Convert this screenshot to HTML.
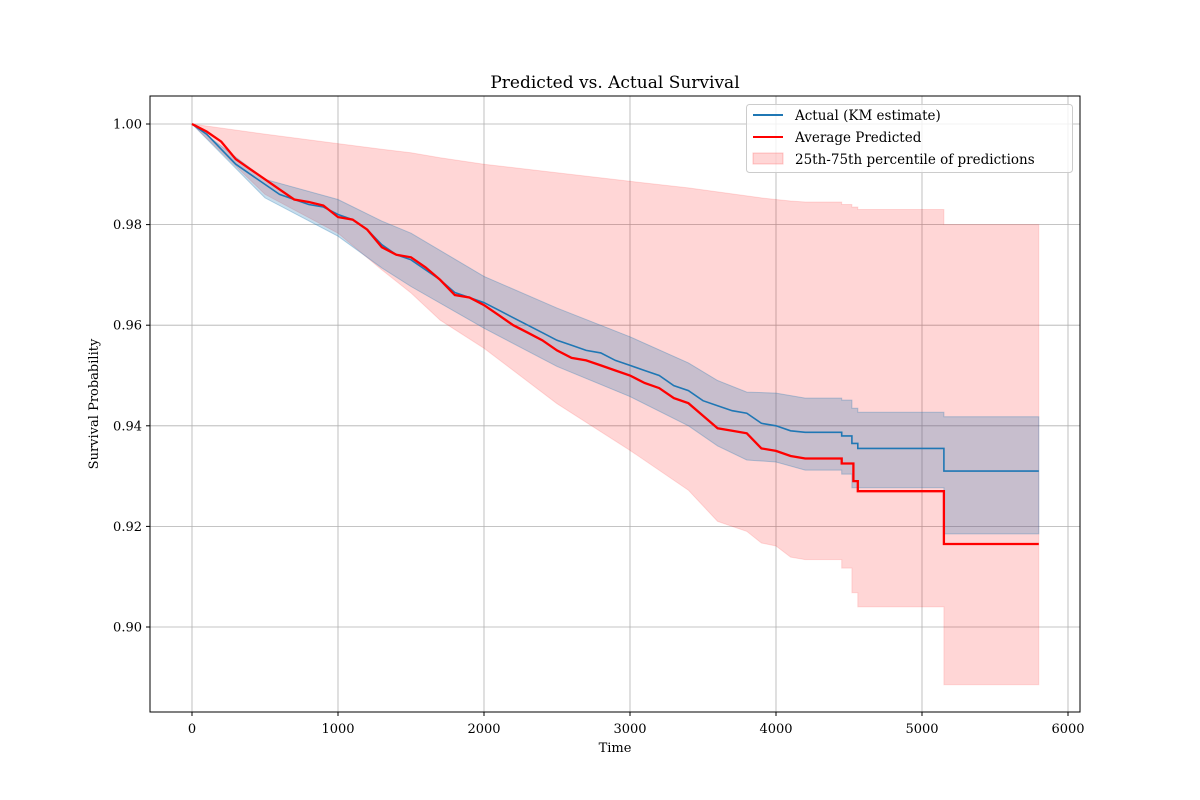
<!DOCTYPE html>
<html><head><meta charset="utf-8"><style>
body{margin:0;background:#fff}
svg{display:block;font-family:"DejaVu Serif","Liberation Serif",serif}
</style></head><body>
<svg id="chart" width="1200" height="800" viewBox="0 0 1200 800">
<rect width="1200" height="800" fill="#fff"/>
<g id="grid"></g>
<g id="bands"></g>
<g id="lines"></g>
<rect x="150" y="96" width="930" height="616" fill="none" stroke="#000" stroke-width="1"/>
<g id="ticks"></g>
<text x="615" y="88" text-anchor="middle" font-size="17">Predicted vs. Actual Survival</text>
<text x="615" y="752" text-anchor="middle" font-size="13">Time</text>
<text x="98" y="404" text-anchor="middle" font-size="13" transform="rotate(-90 98 404)">Survival Probability</text>
<g>
<rect x="746.5" y="104.5" width="326" height="68" rx="3" fill="#fff" fill-opacity="0.8" stroke="#ccc"/>
<line x1="753" y1="115" x2="783" y2="115" stroke="#1f77b4" stroke-width="2"/>
<text x="795" y="120" font-size="13.5">Actual (KM estimate)</text>
<line x1="753" y1="137" x2="783" y2="137" stroke="#ff0000" stroke-width="2"/>
<text x="795" y="142" font-size="13.5">Average Predicted</text>
<rect x="753" y="153" width="30" height="11" fill="#ff0000" fill-opacity="0.16" stroke="#ff0000" stroke-opacity="0.2"/>
<text x="795" y="164" font-size="13.5">25th-75th percentile of predictions</text>
</g>
</svg>
<script>
const xTicks=[0,1000,2000,3000,4000,5000,6000];
const yTicks=[0.90,0.92,0.94,0.96,0.98,1.00];
const kmT=[0,100,200,300,400,500,600,700,800,900,1000,1100,1200,1300,1400,1500,1600,1700,1800,1900,2000,2100,2200,2300,2400,2500,2600,2700,2800,2900,3000,3100,3200,3300,3400,3500,3600,3700,3800,3900,4000,4100,4200,4450,4520,4560,5150,5800];
const kmS=[1.0,0.998,0.995,0.992,0.990,0.988,0.986,0.985,0.984,0.9835,0.982,0.981,0.979,0.976,0.974,0.973,0.971,0.969,0.9665,0.9655,0.9645,0.963,0.9615,0.960,0.9585,0.957,0.956,0.955,0.9545,0.953,0.952,0.951,0.950,0.948,0.947,0.945,0.944,0.943,0.9425,0.9405,0.940,0.939,0.9387,0.938,0.9365,0.9355,0.931,0.931];
const predT=[0,100,200,300,400,500,600,700,800,900,1000,1100,1200,1300,1400,1500,1600,1700,1800,1900,2000,2100,2200,2300,2400,2500,2600,2700,2800,2900,3000,3100,3200,3300,3400,3500,3600,3700,3800,3900,4000,4100,4200,4450,4530,4560,5150,5800];
const predS=[1.0,0.9985,0.9965,0.993,0.991,0.989,0.987,0.985,0.9845,0.9838,0.9815,0.981,0.979,0.9755,0.974,0.9735,0.9715,0.969,0.966,0.9655,0.964,0.962,0.960,0.9585,0.957,0.955,0.9535,0.953,0.952,0.951,0.950,0.9485,0.9475,0.9455,0.9445,0.942,0.9395,0.939,0.9385,0.9355,0.935,0.934,0.9335,0.9325,0.929,0.927,0.9165,0.9165];
const ciT=[0,500,1000,1300,1500,2000,2500,3000,3400,3600,3800,4000,4200,4450,4520,4560,5150,5800];
const ciUpper=[1.0,0.989,0.985,0.9807,0.9783,0.9697,0.9634,0.9577,0.9525,0.949,0.9467,0.9465,0.9455,0.9451,0.9435,0.9427,0.9418,0.9418];
const ciLower=[1.0,0.9853,0.9777,0.9714,0.9677,0.9594,0.9518,0.9458,0.940,0.936,0.9332,0.9328,0.9312,0.9304,0.9277,0.9277,0.9185,0.9185];
const pctT=[0,500,1000,1300,1500,1700,2000,2500,3000,3400,3600,3800,3900,4000,4100,4200,4450,4520,4560,5150,5800];
const pctUpper=[1.0,0.998,0.9961,0.995,0.9943,0.9933,0.992,0.9903,0.9886,0.9873,0.9865,0.9857,0.9853,0.985,0.9847,0.9845,0.984,0.9835,0.983,0.980,0.980];
const pctLower=[1.0,0.986,0.9783,0.971,0.9664,0.961,0.9554,0.9444,0.9351,0.9272,0.921,0.919,0.9167,0.9161,0.9139,0.9134,0.9117,0.9068,0.904,0.8885,0.8885];

const STEP_FROM=4200;
const NS="http://www.w3.org/2000/svg";
const X=t=>192+t*876/6000;
const Y=v=>124+(1-v)*5030;
function mk(tag,attrs,parent){const e=document.createElementNS(NS,tag);for(const k in attrs)e.setAttribute(k,attrs[k]);parent.appendChild(e);return e;}
function stepPts(T,S){let p=[];for(let i=0;i<T.length;i++){if(i>0&&T[i-1]>=STEP_FROM)p.push([X(T[i]),Y(S[i-1])]);p.push([X(T[i]),Y(S[i])]);}return p;}
function bandPath(T,U,L){const u=stepPts(T,U),l=stepPts(T,L).reverse();return 'M'+u.concat(l).map(p=>p[0].toFixed(1)+','+p[1].toFixed(1)).join('L')+'Z';}
function linePath(T,S){return 'M'+stepPts(T,S).map(p=>p[0].toFixed(1)+','+p[1].toFixed(1)).join('L');}
const grid=document.getElementById('grid'),ticks=document.getElementById('ticks');
xTicks.forEach(t=>{
 const g=mk('line',{x1:X(t),x2:X(t),y1:96,y2:712,stroke:'#b0b0b0','stroke-width':0.8},grid);
 
 
 mk('line',{x1:X(t),x2:X(t),y1:712,y2:716,stroke:'#000'},ticks);
 const tx=mk('text',{x:X(t),y:733,'text-anchor':'middle','font-size':13},ticks);tx.textContent=t;
 
 
});
yTicks.forEach(v=>{
 const g=mk('line',{x1:150,x2:1080,y1:Y(v),y2:Y(v),stroke:'#b0b0b0','stroke-width':0.8},grid);
 
 
 mk('line',{x1:146,x2:150,y1:Y(v),y2:Y(v),stroke:'#000'},ticks);
 const tx=mk('text',{x:142,y:Y(v)+4.5,'text-anchor':'end','font-size':13},ticks);tx.textContent=v.toFixed(2);
 
 
});
const bands=document.getElementById('bands'),lines=document.getElementById('lines');
const pb=mk('path',{d:bandPath(pctT,pctUpper,pctLower),fill:'#ff0000','fill-opacity':0.16,stroke:'#ff0000','stroke-opacity':0.12},bands);


const cb=mk('path',{d:bandPath(ciT,ciUpper,ciLower),fill:'#1f77b4','fill-opacity':0.25,stroke:'#1f77b4','stroke-opacity':0.3},bands);


const kl=mk('path',{d:linePath(kmT,kmS),fill:'none',stroke:'#1f77b4','stroke-width':1.6},lines);


const pl=mk('path',{d:linePath(predT,predS),fill:'none',stroke:'#ff0000','stroke-width':2.3},lines);


</script>
</body></html>
